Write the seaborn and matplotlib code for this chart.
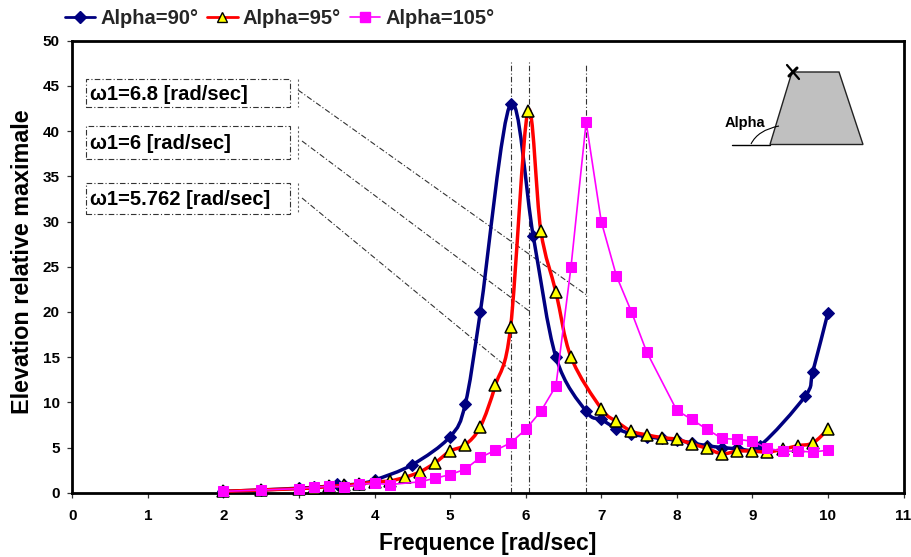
import matplotlib
matplotlib.use('Agg')
import matplotlib.pyplot as plt
import seaborn as sns
from matplotlib.lines import Line2D
from matplotlib.path import Path
from matplotlib.patches import PathPatch, Polygon, Rectangle

# values
x_90 = [2, 2.5, 3, 3.2, 3.4, 3.5, 3.6, 3.8, 4, 4.5, 5, 5.2, 5.4, 5.8, 6.1, 6.4, 6.8, 7, 7.2, 7.4,
        7.6, 7.8, 8, 8.2, 8.4, 8.6, 8.8, 9.1, 9.7, 9.8, 10]
y_90 = [0.15, 0.3, 0.5, 0.6, 0.75, 1.0, 0.85, 1.0, 1.4, 3.1, 6.2, 9.8, 20, 43, 28.4, 15, 9, 8.1, 7.1, 6.5,
        6.2, 6.0, 5.8, 5.5, 5.2, 5.0, 4.9, 5.2, 10.7, 13.4, 19.9]

x_95 = [2, 2.5, 3, 3.2, 3.4, 3.6, 3.8, 4, 4.2, 4.4, 4.6, 4.8, 5, 5.2, 5.4, 5.6, 5.8, 6.03, 6.2, 6.4, 6.6,
        7, 7.2, 7.4, 7.6, 7.8, 8, 8.2, 8.4, 8.6, 8.8, 9, 9.2, 9.4, 9.6, 9.8, 10]
y_95 = [0.15, 0.3, 0.45, 0.55, 0.7, 0.8, 0.95, 1.2, 1.3, 1.7, 2.3, 3.3, 4.6, 5.3, 7.3, 11.9, 18.3, 42.2, 29, 22.2, 15,
        9.3, 7.9, 6.8, 6.4, 6.1, 5.9, 5.4, 4.9, 4.3, 4.6, 4.6, 4.5, 4.8, 5.2, 5.5, 7]

x_105 = [2, 2.5, 3, 3.2, 3.4, 3.6, 3.8, 4, 4.2, 4.6, 4.8, 5, 5.2, 5.4, 5.6, 5.8, 6, 6.2, 6.4, 6.6, 6.8,
         7, 7.2, 7.4, 7.6, 8, 8.2, 8.4, 8.6, 8.8, 9, 9.2, 9.4, 9.6, 9.8, 10]
y_105 = [0.15, 0.3, 0.45, 0.6, 0.7, 0.65, 0.95, 1.05, 0.9, 1.2, 1.6, 2, 2.6, 3.9, 4.7, 5.5, 7, 9, 11.8, 25, 41,
         30, 24, 20, 15.6, 9.1, 8.1, 7, 6, 5.9, 5.7, 4.9, 4.6, 4.6, 4.5, 4.7]

x_ticks = list(range(0, 12))
y_ticks = list(range(0, 55, 5))
peak_lines = [5.8, 6.04, 6.8]
box_labels = ['ω1=6.8 [rad/sec]', 'ω1=6 [rad/sec]', 'ω1=5.762 [rad/sec]']

sns.set_theme(style='ticks')
plt.rcParams['font.family'] = ['Liberation Sans', 'DejaVu Sans']
plt.rcParams['font.weight'] = 'bold'

W, H = 912, 557
L, R, T, B = 72.3, 903.5, 40.7, 492.7
fig = plt.figure(figsize=(W / 100, H / 100), dpi=100, facecolor='white')
ax = fig.add_axes([L / W, 1 - B / H, (R - L) / W, (B - T) / H])
ax.set_xlim(0, 11)
ax.set_ylim(0, 50)


def px(x, y):
    # picture pixels to data coordinates, for the drawn notes
    return (x - L) / ((R - L) / 11), (B - y) / ((B - T) / 50)


def smooth_curve(xs, ys, color, lw, z):
    # same kind of bezier smoothing as a spreadsheet "smoothed line"
    pts = list(zip(xs, ys))
    verts = [pts[0]]
    codes = [Path.MOVETO]
    for i in range(len(pts) - 1):
        p0 = pts[max(i - 1, 0)]
        p1 = pts[i]
        p2 = pts[i + 1]
        p3 = pts[min(i + 2, len(pts) - 1)]
        c1 = (p1[0] + (p2[0] - p0[0]) / 6, p1[1] + (p2[1] - p0[1]) / 6)
        c2 = (p2[0] - (p3[0] - p1[0]) / 6, p2[1] - (p3[1] - p1[1]) / 6)
        verts += [c1, c2, p2]
        codes += [Path.CURVE4] * 3
    ax.add_patch(PathPatch(Path(verts, codes), fill=False, edgecolor=color, lw=lw, zorder=z))


def note(xs, ys, lw=0.8, ls=(0, (5, 2, 1, 2)), color='#333333', z=2):
    pts = [px(a, b) for a, b in zip(xs, ys)]
    ax.plot([p[0] for p in pts], [p[1] for p in pts], color=color, lw=lw, ls=ls, zorder=z, clip_on=False)


# leader lines and peak markers under the curves
for v, top in zip(peak_lines, [62, 62, 64]):
    ax.plot([v, v], [0, px(0, top)[1]], color='#333333', lw=0.8, ls=(0, (5, 2, 1, 2)), zorder=2)
note([298, 588], [90, 296])
note([302, 529], [141, 311])
note([302, 513], [198, 372])

# boxes with the natural frequencies
boxes = [(86, 79, 290, 107), (86, 126, 290, 159), (86, 183, 290, 214)]
for (x0, y0, x1, y1), label in zip(boxes, box_labels):
    a, b = px(x0, y1)
    c, d = px(x1, y0)
    ax.add_patch(Rectangle((a, b), c - a, d - b, fill=False, ec='#333333', lw=0.8, ls=(0, (5, 2, 1, 2)), zorder=2))
    note([298, 298], [y0, y1], ls=(0, (2, 2)), color='#666666')
    tx, ty = px(90, (y0 + y1) / 2 + 1)
    ax.text(tx, ty, label, fontsize=14.5, fontweight='bold', color='black', va='center', ha='left')

# curves
smooth_curve(x_90, y_90, '#000080', 2.5, 3)
sns.lineplot(x=x_90, y=y_90, ax=ax, marker='D', markersize=6.5, color='#000080', markeredgecolor='#000080',
             linestyle='none', zorder=3.1, legend=False, errorbar=None, clip_on=False)
smooth_curve(x_95, y_95, '#FF0000', 2.5, 4)
sns.lineplot(x=x_95, y=y_95, ax=ax, marker='^', markersize=8, color='#FF0000', markerfacecolor='#FFFF00',
             markeredgecolor='black', markeredgewidth=1.1, linestyle='none', zorder=4.1, legend=False,
             errorbar=None, clip_on=False)
sns.lineplot(x=x_105, y=y_105, ax=ax, marker='s', markersize=7.8, color='#FF00FF', markeredgecolor='#FF00FF',
             linewidth=1.2, zorder=5, legend=False, errorbar=None, clip_on=False)

# small sketch of the section
trap = [px(770, 144.5), px(792, 72), px(839, 72), px(863, 144.5)]
ax.add_patch(Polygon(trap, closed=True, fc='#C0C0C0', ec='#222222', lw=1.0, zorder=2))
note([732, 770], [144.5, 144.5], lw=1.0, ls='-', color='black')
arc_a, arc_b = px(751, 144), px(779, 126)
arc_c = px(758, 130)
ax.add_patch(PathPatch(Path([arc_a, arc_c, arc_b], [Path.MOVETO, Path.CURVE3, Path.CURVE3]),
                       fill=False, ec='black', lw=0.8, zorder=3))
note([787, 799], [65, 79], lw=1.6, ls='-', color='black', z=3)
note([789, 797], [76, 68], lw=2.2, ls='-', color='black', z=3)
ta, tb = px(744.5, 123)
ax.text(ta, tb, 'Alpha', fontsize=10.5, fontweight='bold', ha='center', va='center', color='black')

ax.set_xticks(x_ticks)
ax.set_yticks(y_ticks)
ax.tick_params(axis='both', length=3.5, width=0.9, color='#333333', labelsize=11, labelcolor='black')
ax.tick_params(axis='x', pad=8)
ax.tick_params(axis='y', pad=5.5)
for lab in ax.get_xticklabels() + ax.get_yticklabels():
    lab.set_fontweight('bold')
for s in ax.spines.values():
    s.set_visible(True)
    s.set_linewidth(2)
    s.set_color('black')
ax.set_xlabel('Frequence [rad/sec]', fontsize=16.5, fontweight='bold', color='black')
ax.set_ylabel('Elevation relative maximale', fontsize=16.8, fontweight='bold', color='black')
ax.xaxis.set_label_coords(0.5, -0.0875)
ax.yaxis.set_label_coords(-0.046, 0.511)

handles = [
    Line2D([], [], color='#000080', lw=2, marker='D', ms=6, mec='#000080'),
    Line2D([], [], color='#FF0000', lw=2, marker='^', ms=7.5, mfc='#FFFF00', mec='black', mew=1),
    Line2D([], [], color='#FF00FF', lw=1.2, marker='s', ms=7, mec='#FF00FF'),
]
fig.legend(handles, ['Alpha=90°', 'Alpha=95°', 'Alpha=105°'], loc='upper left', bbox_to_anchor=(61 / W, 1 - 5 / H),
           ncol=3, frameon=False, prop={'size': 14.5, 'weight': 'bold'}, handlelength=1.5, handletextpad=0.25,
           columnspacing=0.45, borderaxespad=0, borderpad=0.2)

fig.savefig('out.png', dpi=100, facecolor='white')
